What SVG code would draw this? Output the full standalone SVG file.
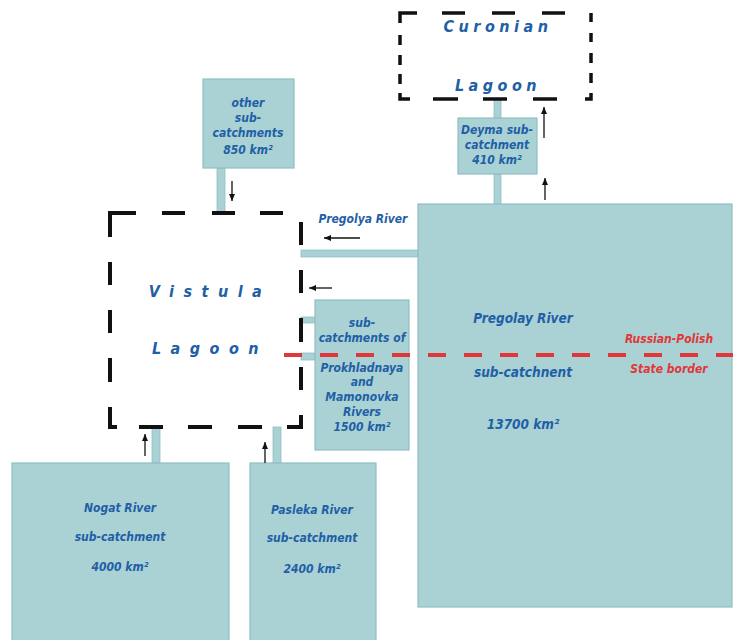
<svg xmlns="http://www.w3.org/2000/svg" width="733" height="640" viewBox="0 0 733 640">
<style>
.box{fill:#aad1d4;stroke:#90bfc3;stroke-width:1.2}
.pipe{fill:#aad1d4;stroke:#90bfc3;stroke-width:0.8}
.lag{fill:none;stroke:#111;stroke-linejoin:miter;stroke-linecap:butt}
.arr{stroke:#111;stroke-width:1.3;fill:none;marker-end:url(#ah)}
text{font-family:"DejaVu Sans Condensed","DejaVu Sans",sans-serif;font-stretch:condensed;font-style:italic;font-weight:bold;fill:#1f5fa6;text-anchor:middle}
.s12{font-size:12px}
.s14{font-size:13.5px}
.lg{font-size:16px}
.red{fill:#e0373a}
.border{stroke:#e0373a;stroke-width:4;stroke-dasharray:18 18;fill:none}
</style>
<defs>
<marker id="ah" markerUnits="userSpaceOnUse" markerWidth="8" markerHeight="8" refX="7" refY="4" orient="auto">
<path d="M0,1 L7,4 L0,7 Z" fill="#111"/>
</marker>
</defs>
<rect width="733" height="640" fill="#fff"/>

<g id="pipes">
<rect class="pipe" x="494" y="99" width="7" height="19"/>
<rect class="pipe" x="494" y="174" width="7" height="31"/>
<rect class="pipe" x="217" y="168" width="8" height="45"/>
<rect class="pipe" x="301" y="250" width="117" height="7"/>
<rect class="pipe" x="301" y="317" width="14" height="6"/>
<rect class="pipe" x="301" y="353" width="14" height="7"/>
<rect class="pipe" x="152" y="427" width="8" height="36"/>
<rect class="pipe" x="273" y="427" width="8" height="36"/>
</g>

<g id="pregolay">
<rect class="box" x="418" y="204" width="314" height="403"/>
<text class="s14" x="523" y="323">Pregolay River</text>
<text class="s14" x="523" y="377">sub-catchnent</text>
<text class="s14" x="523" y="429">13700 km²</text>
</g>

<g id="deyma">
<rect class="box" x="458" y="118" width="79" height="56"/>
<text class="s12" x="497" y="134">Deyma sub-</text>
<text class="s12" x="497" y="149">catchment</text>
<text class="s12" x="497" y="164">410 km²</text>
</g>

<g id="other">
<rect class="box" x="203" y="79" width="91" height="89"/>
<text class="s12" x="248" y="107">other</text>
<text class="s12" x="248" y="122">sub-</text>
<text class="s12" x="248" y="137">catchments</text>
<text class="s12" x="248" y="154">850 km²</text>
</g>

<g id="prokhladnaya">
<rect class="box" x="315" y="300" width="94" height="150"/>
<text class="s12" x="362" y="327">sub-</text>
<text class="s12" x="362" y="342">catchments of</text>
<text class="s12" x="362" y="372">Prokhladnaya</text>
<text class="s12" x="362" y="386">and</text>
<text class="s12" x="362" y="401">Mamonovka</text>
<text class="s12" x="362" y="416">Rivers</text>
<text class="s12" x="362" y="431">1500 km²</text>
</g>

<g id="nogat">
<rect class="box" x="12" y="463" width="217" height="182"/>
<text class="s12" x="120" y="512">Nogat River</text>
<text class="s12" x="120" y="541">sub-catchment</text>
<text class="s12" x="120" y="571">4000 km²</text>
</g>

<g id="pasleka">
<rect class="box" x="250" y="463" width="126" height="182"/>
<text class="s12" x="312" y="514">Pasleka River</text>
<text class="s12" x="312" y="542">sub-catchment</text>
<text class="s12" x="312" y="573">2400 km²</text>
</g>

<g id="vistula">
<path class="lag" stroke-width="4" d="M110,237 V213 H136 M162,213 H185 M212,213 H235 M260,213 H283 M301,222 V245 M301,270 V293 M301,318 V342 M301,367 V390 M301,415 V427 H287 M262,427 H238 M212,427 H188 M163,427 H139 M110,262 V285 M110,310 V333 M110,358 V382 M110,407 V427 H117"/>
<text class="lg" x="210" y="297" style="letter-spacing:9.5px">Vistula</text>
<text class="lg" x="210" y="354" style="letter-spacing:9.5px">Lagoon</text>
</g>

<g id="curonian">
<path class="lag" stroke-width="3.5" d="M400,23 V13 H417 M442,13 H465 M492,13 H515 M542,13 H565 M591,13 V22 M591,33 V42 M591,53 V63 M591,73 V83 M591,93 V99 H585 M557,99 H533 M507,99 H483 M458,99 H433 M400,35 V45 M400,55 V65 M400,74 V84 M400,93 V99 H410"/>
<text class="lg" x="498" y="32" style="letter-spacing:4.5px">Curonian</text>
<text class="lg" x="498" y="91" style="letter-spacing:4.5px">Lagoon</text>
</g>

<g id="connectors">
<line class="arr" x1="232" y1="181" x2="232" y2="201"/>
<line class="arr" x1="544" y1="138" x2="544" y2="107"/>
<line class="arr" x1="545" y1="200" x2="545" y2="178"/>
<line class="arr" x1="360" y1="238" x2="324" y2="238"/>
<line class="arr" x1="332" y1="288" x2="309" y2="288"/>
<line class="arr" x1="145" y1="456" x2="145" y2="434"/>
<line class="arr" x1="265" y1="463" x2="265" y2="442"/>
</g>

<g id="state-border">
<path class="border" d="M284,355 H733"/>
<text class="s12 red" x="669" y="343">Russian-Polish</text>
<text class="s12 red" x="669" y="373">State border</text>
</g>

<g id="pregolya-label">
<text class="s12" x="363" y="223">Pregolya River</text>
</g>
</svg>
